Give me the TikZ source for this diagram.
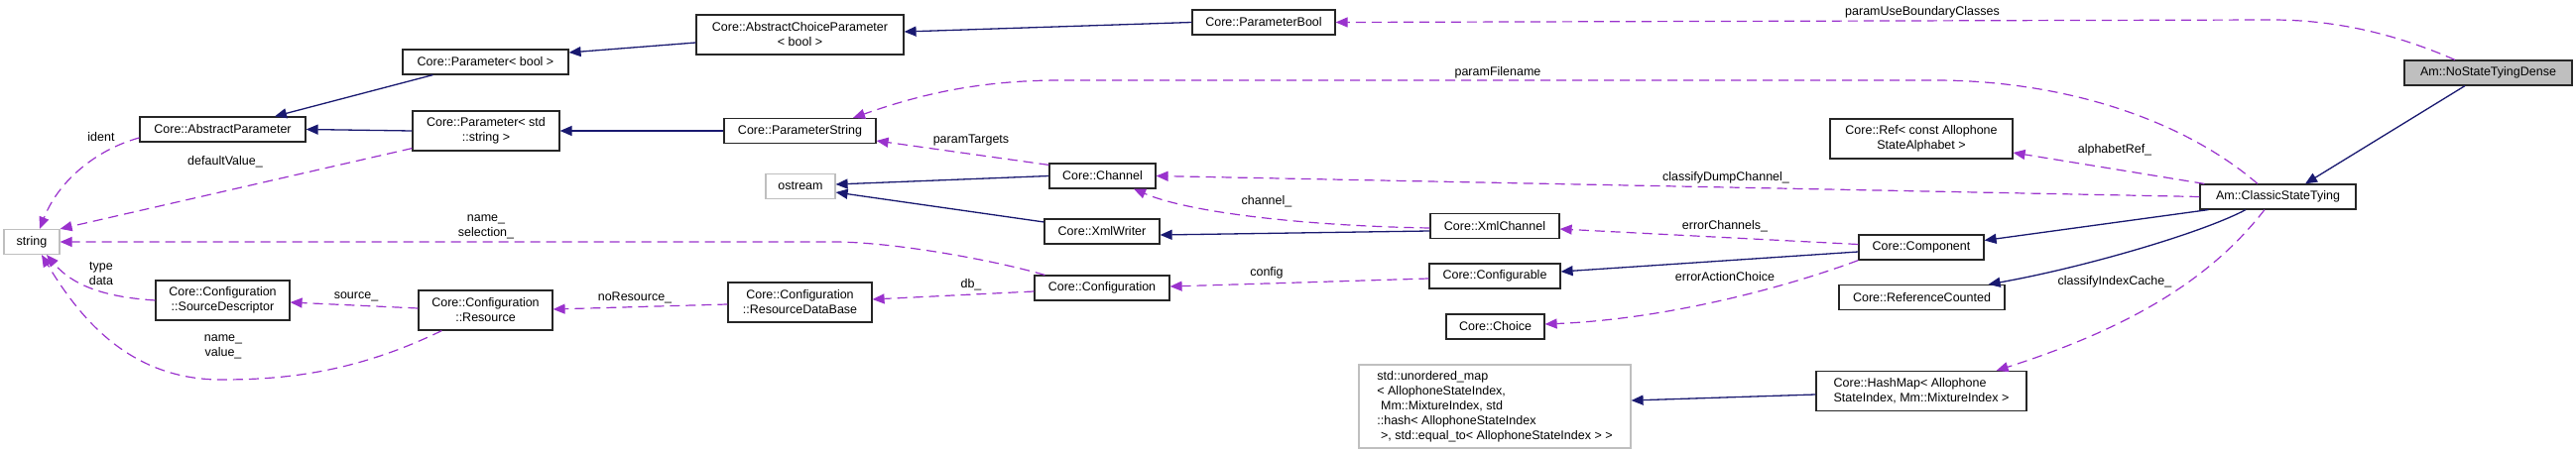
\documentclass[tikz,border=0pt]{standalone}
\usepackage{fontspec}
\setmainfont{Liberation Sans}
\usetikzlibrary{arrows.meta}
\definecolor{navy}{HTML}{191970}
\definecolor{usecol}{HTML}{9A32CD}
\definecolor{grayb}{HTML}{BFBFBF}
\begin{document}
\begin{tikzpicture}[x=1pt,y=-1pt,
  font=\fontsize{12.5}{15}\selectfont,
  wh/.style n args={2}{minimum width=#1pt, minimum height=#2pt},
  cls/.style={draw=black!85, line width=1.2pt, fill=white, inner sep=0pt, align=center},
  ext/.style={cls, draw=grayb},
  inh/.style={draw=navy, line width=1.3pt, -{Triangle[length=12pt,width=10pt]}},
  use/.style={draw=usecol, line width=1.2pt, dash pattern=on 10pt off 6pt, -{Triangle[length=12pt,width=10pt]}},
  lab/.style={inner sep=0pt, align=center}]
\useasboundingbox (0,0) rectangle (2597,457);

% nodes
\node[cls, wh={169}{25}, fill=grayb] (nstd) at (2508.5,73.5) {Am::NoStateTyingDense};
\node[cls, wh={157}{25}] (cst) at (2296.5,198.5) {Am::ClassicStateTying};
\node[cls, wh={184}{40}] (ref) at (1937,140) {Core::Ref< const Allophone\\StateAlphabet >};
\node[cls, wh={126}{25}] (comp) at (1937,249.5) {Core::Component};
\node[cls, wh={167}{25}] (rc) at (1937.5,300) {Core::ReferenceCounted};
\node[cls, wh={212}{40}, align=left] (hm) at (1937,394.5) {Core::HashMap< Allophone\\StateIndex, Mm::MixtureIndex >};
\node[cls, wh={130}{25}] (xc) at (1507,228) {Core::XmlChannel};
\node[cls, wh={132}{25}] (cfg) at (1507,278.5) {Core::Configurable};
\node[cls, wh={99}{25}] (choice) at (1507.5,329.5) {Core::Choice};
\node[ext, wh={274}{84}, align=left] (um) at (1507,410) {std::unordered\_map\\< AllophoneStateIndex,\\\hspace*{0.3em}Mm::MixtureIndex, std\\::hash< AllophoneStateIndex\\\hspace*{0.3em}>, std::equal\_to< AllophoneStateIndex > >};
\node[cls, wh={144}{25}] (pbool) at (1274,22.5) {Core::ParameterBool};
\node[cls, wh={107}{25}] (ch) at (1111.5,177.5) {Core::Channel};
\node[cls, wh={116}{25}] (xw) at (1111,233.5) {Core::XmlWriter};
\node[cls, wh={136}{25}] (conf) at (1111,290.5) {Core::Configuration};
\node[cls, wh={209}{40}] (acp) at (806.5,35) {Core::AbstractChoiceParameter\\< bool >};
\node[cls, wh={153}{25}] (ps) at (806.5,132) {Core::ParameterString};
\node[ext, wh={70}{25}] (ostream) at (807,188) {ostream};
\node[cls, wh={145}{40}] (rdb) at (806.5,305) {Core::Configuration\\::ResourceDataBase};
\node[cls, wh={167}{25}] (parbool) at (489.5,62.5) {Core::Parameter< bool >};
\node[cls, wh={148}{40}] (pstr) at (490,132) {Core::Parameter< std\\::string >};
\node[cls, wh={135}{40}] (res) at (489.5,313) {Core::Configuration\\::Resource};
\node[cls, wh={167}{25}] (ap) at (224.5,130.5) {Core::AbstractParameter};
\node[cls, wh={135}{40}] (sd) at (224.5,303) {Core::Configuration\\::SourceDescriptor};
\node[ext, wh={56}{25}] (string) at (32,244) {string};

% inheritance
\draw[inh] ([xshift=-23.5pt]nstd.south) -- ([xshift=27.5pt]cst.north);
\draw[inh] ([xshift=9pt]cst.south west) -- ([yshift=7pt]comp.east);
\draw[inh] ([xshift=-32.5pt]cst.south) .. controls (2220,235) and (2100,270) .. ([xshift=-17pt]rc.north east);
\draw[inh] ([yshift=-4.5pt]comp.west) -- ([yshift=4.5pt]cfg.east);
\draw[inh] ([yshift=-5pt]xc.west) -- ([yshift=-3.5pt]xw.east);
\draw[inh] (ch.west) -- ([yshift=2pt]ostream.east);
\draw[inh] ([yshift=9.5pt]xw.west) -- ([yshift=-6pt]ostream.east);
\draw[inh] ([yshift=-3.5pt]hm.west) -- ([yshift=6pt]um.east);
\draw[inh] (pbool.west) -- ([yshift=3pt]acp.east);
\draw[inh] ([yshift=-8pt]acp.west) -- ([yshift=9.5pt]parbool.east);
\draw[inh] (ps.west) -- (pstr.east);
\draw[inh] ([xshift=31pt]parbool.south west) -- ([xshift=52.5pt]ap.north);
\draw[inh] (pstr.west) -- (ap.east);

% usage
\draw[use] ([xshift=-33.5pt]nstd.north) .. controls (2410,32) and (2350,20) .. (2290,20) -- (pbool.east);
\draw[use] ([xshift=-20.5pt]cst.north) .. controls (2200,120) and (2080,81) .. (1950,81) -- (1070,81) .. controls (980,81) and (920,98) .. ([xshift=53.5pt]ps.north);
\draw[use] ([xshift=5pt]cst.north west) -- ([yshift=-14pt]ref.east);
\draw[use] (cst.west) -- (ch.east);
\draw[use] ([yshift=-2pt]xc.west) .. controls (1320,228) and (1200,215) .. ([xshift=31.5pt]ch.south);
\draw[use] ([yshift=3pt]comp.west) -- ([yshift=-3pt]xc.east);
\draw[use] ([yshift=-2.5pt]cfg.west) -- ([yshift=1.5pt]conf.east);
\draw[use] (comp.south west) .. controls (1800,290) and (1680,322) .. ([yshift=2.5pt]choice.east);
\draw[use] ([xshift=-13.5pt]cst.south) .. controls (2230,280) and (2150,330) .. ([xshift=-31pt]hm.north east);
\draw[use] ([xshift=11pt]conf.north west) .. controls (1000,262) and (900,244) .. (840,244) -- (string.east);
\draw[use] ([yshift=-3.5pt]conf.west) -- ([yshift=3pt]rdb.east);
\draw[use] ([yshift=-2pt]rdb.west) -- ([yshift=1pt]res.east);
\draw[use] ([yshift=2pt]res.west) -- ([yshift=-2pt]sd.east);
\draw[use] ([xshift=24pt]res.south west) .. controls (360,375) and (290,383) .. (223,383) .. controls (130,383) and (80,320) .. ([xshift=10pt]string.south);
\draw[use] (sd.west) .. controls (110,300) and (75,290) .. ([xshift=15pt]string.south);
\draw[use] ([yshift=-8.5pt]ap.west) .. controls (100,150) and (60,180) .. ([xshift=8pt]string.north);
\draw[use] ([yshift=3pt]pstr.south west) -- (string.north east);
\draw[use] ([yshift=-2pt]ch.north west) -- ([yshift=-10pt]ps.east);

% labels
\node[lab] (l1) at (1938,12) {paramUseBoundaryClasses};
\node[lab] (l2) at (1510,73) {paramFilename};
\node[lab] (l3) at (2132,151) {alphabetRef\_};
\node[lab] (l4) at (1740,179) {classifyDumpChannel\_};
\node[lab] (l5) at (1277,203) {channel\_};
\node[lab] (l6) at (1739,228) {errorChannels\_};
\node[lab] (l7) at (1277,275) {config};
\node[lab] (l8) at (1739,279) {errorActionChoice};
\node[lab] (l9) at (2132,284) {classifyIndexCache\_};
\node[lab] (l10) at (490,228.5) {name\_\\selection\_};
\node[lab] (l11) at (979,287) {db\_};
\node[lab] (l12) at (640,300) {noResource\_};
\node[lab] (l13) at (359,299) {source\_};
\node[lab] (l14) at (225,350) {name\_\\value\_};
\node[lab] (l15) at (102,276.5) {type\\data};
\node[lab] (l16) at (102,138) {ident};
\node[lab] (l17) at (227,163) {defaultValue\_};
\node[lab] (l18) at (979,141) {paramTargets};
\end{tikzpicture}
\end{document}
